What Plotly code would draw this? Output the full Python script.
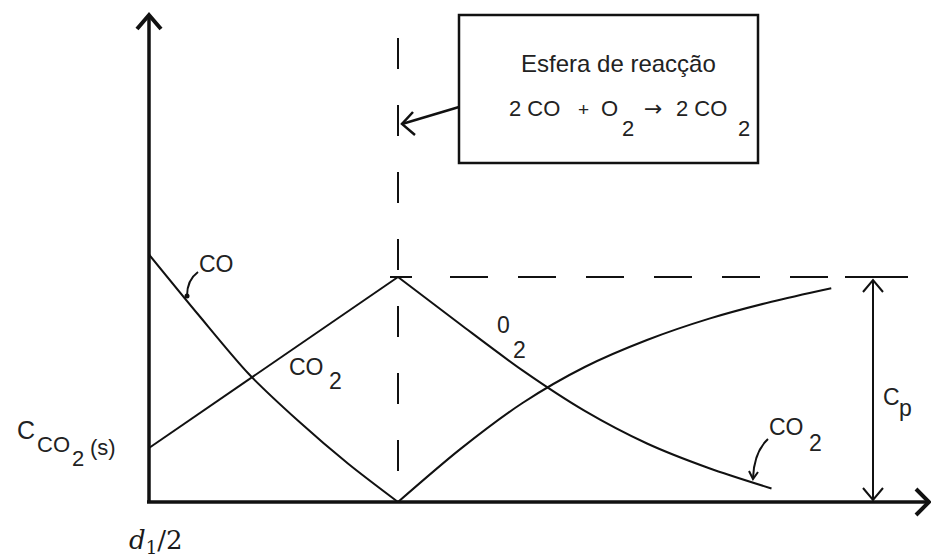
import plotly.graph_objects as go

# Concentration profiles around a burning particle (r = 0 at the particle
# surface d1/2, r = 1 at the reaction sphere); values normalised by Cp.
r_inner = [0.0, 0.2, 0.4, 0.6, 0.8, 1.0]
co_inner = [1.10, 0.83, 0.57, 0.36, 0.17, 0.0]

r_co2_inner = [0.0, 1.0]
co2_inner = [0.24, 1.0]

r_o2_outer = [1.0, 1.25, 1.5, 1.75, 2.0, 2.25, 2.5]
o2_outer = [1.0, 0.79, 0.585, 0.405, 0.26, 0.15, 0.06]

r_co2_outer = [1.0, 1.25, 1.5, 1.75, 2.0, 2.25, 2.5, 2.74]
co2_outer = [0.0, 0.235, 0.44, 0.60, 0.72, 0.815, 0.89, 0.95]

r_front = 1.0      # reaction sphere position
c_p = 1.0          # far-field concentration

# Page geometry: screen position of the origin and of the (r_front, c_p) point
W, H = 931, 557
OX, OY = 149, 502
FX, FY = 398, 277


def px(x):
    return (x - OX) / (FX - OX) * r_front


def py(y):
    return (OY - y) / (OY - FY) * c_p


INK = "#111111"
TXT = "#222222"
SANS = "Liberation Sans, Arial, sans-serif"

fig = go.Figure()

def curve(x, y):
    fig.add_trace(go.Scatter(x=x, y=y, mode="lines",
                             line=dict(color=INK, width=2, shape="spline", smoothing=0.8),
                             hoverinfo="skip", showlegend=False))

curve(r_inner, co_inner)
curve(r_co2_inner, co2_inner)
curve(r_o2_outer, o2_outer)
curve(r_co2_outer, co2_outer)

shapes = []

def seg(x0, y0, x1, y1, width=2, dash=None):
    shapes.append(dict(type="line", xref="x", yref="y", x0=x0, y0=y0, x1=x1, y1=y1,
                       line=dict(color=INK, width=width, dash=dash)))

def chevron(tip, a, b, width=2):
    path = "M {} {} L {} {} L {} {}".format(px(a[0]), py(a[1]), px(tip[0]), py(tip[1]),
                                          px(b[0]), py(b[1]))
    shapes.append(dict(type="path", xref="x", yref="y", path=path,
                       line=dict(color=INK, width=width)))

def leader(p0, c, p1):
    path = "M {} {} Q {} {} {} {}".format(px(p0[0]), py(p0[1]), px(c[0]), py(c[1]),
                                        px(p1[0]), py(p1[1]))
    shapes.append(dict(type="path", xref="x", yref="y", path=path,
                       line=dict(color=INK, width=2)))

# axes with open arrow heads
seg(0, 0, 0, py(16), width=3.5)
chevron((149, 15), (137, 29), (161, 29), width=4)
seg(px(147), 0, px(928), 0, width=3.5)
chevron((929, 502), (916, 489), (916, 515), width=4)

# reaction sphere (dashed vertical) and Cp level (dashed horizontal)
seg(r_front, py(38), r_front, 0, width=2, dash="31px,36px")
seg(px(390), c_p, px(412), c_p, width=2)
seg(px(450), c_p, px(845), c_p, width=2, dash="38px,30px")
seg(px(845), c_p, px(908), c_p, width=2)

# Cp dimension arrow
cpx = 873
seg(px(cpx), py(280), px(cpx), py(500), width=2)
chevron((cpx, 280), (863, 292), (883, 292))
chevron((cpx, 500), (863, 488), (883, 488))

# label box and pointer to the reaction sphere
shapes.append(dict(type="rect", xref="x", yref="y", x0=px(459), y0=py(15), x1=px(758), y1=py(163),
                   line=dict(color=INK, width=2.5)))
seg(px(459), py(107), px(402), py(124), width=2.5)
chevron((402, 124), (413, 112), (415, 135), width=2.5)

# leader lines to the curves
leader((198, 272), (187, 280), (187, 296))
leader((768, 439), (754, 452), (753, 478))
chevron((753, 479), (749, 471), (758, 472))

fig.add_trace(go.Scatter(x=[px(187)], y=[py(296)], mode="markers",
                         marker=dict(color=INK, size=5), hoverinfo="skip", showlegend=False))

annotations = []

def label(text, x, y, size=23, family=SANS, color=TXT):
    annotations.append(dict(text=text, x=px(x), y=py(y), xref="x", yref="y", showarrow=False,
                            xanchor="center", yanchor="middle",
                            font=dict(family=family, size=size, color=color)))

label("Esfera de reacção", 618, 63, size=24)
label("2 CO", 534, 108, size=22)
label("+", 583, 109, size=19)
label("O", 609, 108, size=22)
label("2", 628, 128, size=22)
label("→", 653, 108, size=22, family="DejaVu Sans, sans-serif")
label("2 CO", 701, 108, size=22)
label("2", 744, 128, size=22)

label("CO", 216, 264)
label("CO", 306, 367)
label("2", 335, 381)
label("0", 503, 325)
label("2", 519, 350)
label("CO", 786, 427)
label("2", 815, 443)
label("C", 891, 397)
label("p", 905, 408)

label("C", 26, 430, size=25)
label("CO", 53, 444, size=22)
label("2", 78, 458, size=22)
label("(s)", 103, 447, size=22)

label("<i>d</i><sub>1</sub>/2", 156, 541, size=26, family="DejaVu Serif, serif", color="#1a1a1a")

fig.update_layout(
    width=W, height=H,
    margin=dict(l=0, r=0, t=0, b=0),
    paper_bgcolor="white", plot_bgcolor="white",
    xaxis=dict(range=[px(0), px(W)], visible=False, fixedrange=True),
    yaxis=dict(range=[py(H), py(0)], visible=False, fixedrange=True),
    shapes=shapes, annotations=annotations,
    showlegend=False,
)

fig.write_html("out.html")
